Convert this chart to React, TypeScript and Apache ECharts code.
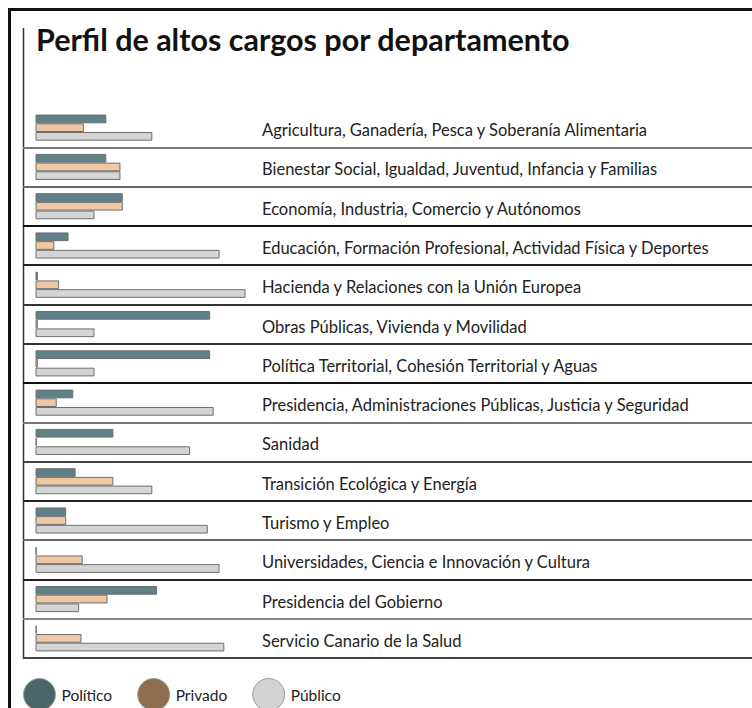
import React, { useEffect, useRef } from "react";
import * as echarts from "echarts";

const categories = [
  "Agricultura, Ganadería, Pesca y Soberanía Alimentaria",
  "Bienestar Social, Igualdad, Juventud, Infancia y Familias",
  "Economía, Industria, Comercio y Autónomos",
  "Educación, Formación Profesional, Actividad Física y Deportes",
  "Hacienda y Relaciones con la Unión Europea",
  "Obras Públicas, Vivienda y Movilidad",
  "Política Territorial, Cohesión Territorial y Aguas",
  "Presidencia, Administraciones Públicas, Justicia y Seguridad",
  "Sanidad",
  "Transición Ecológica y Energía",
  "Turismo y Empleo",
  "Universidades, Ciencia e Innovación y Cultura",
  "Presidencia del Gobierno",
  "Servicio Canario de la Salud",
];

const politico = [30, 30, 37, 14, 1, 74, 74, 16, 33, 17, 13, 0.5, 51.5, 0.5];
const privado = [20.5, 36, 37, 8, 10, 1, 1, 9, 0.5, 33, 13, 20, 30.5, 19.5];
const publico = [49.5, 36, 25, 78, 89, 25, 25, 75.5, 65.5, 49.5, 73, 78, 18.5, 80];

const seriesNames = ["Político", "Privado", "Público"];
const barColors = ["#5f8188", "#eec7a4", "#d4d4d4"];
const legendColors = ["#4a666b", "#8f6e4f", "#d3d3d3"];

const separatorColors = [
  "rgba(0,0,0,0)",
  "#777777", "#666666", "#111111", "#222222", "#333333", "#333333", "#111111",
  "#777777", "#444444", "#222222", "#666666", "#222222", "#888888", "#444444",
];

const FONT = "Lato, 'Open Sans', sans-serif";

export default function App() {
  const ref = useRef<HTMLDivElement>(null);

  useEffect(() => {
    if (!ref.current) return;
    const chart = echarts.init(ref.current, undefined, { renderer: "svg" });
    const values = [politico, privado, publico];
    chart.setOption({
      animation: false,
      backgroundColor: "#ffffff",
      title: {
        text: "Perfil de altos cargos por departamento",
        left: 31,
        top: 18,
        textStyle: { fontFamily: FONT, fontWeight: "bold", fontSize: 30.5, color: "#111111" },
      },
      legend: {
        left: 18,
        top: 673,
        itemWidth: 34,
        itemHeight: 32,
        itemGap: 25,
        icon: "circle",
        textStyle: { fontFamily: FONT, fontSize: 15.5, color: "#222222" },
        data: seriesNames.map((n, i) => ({
          name: n,
          itemStyle: { color: legendColors[i], borderColor: "#9a9a9a", borderWidth: 1 },
        })),
      },
      grid: { left: 23, right: 0, top: 108, bottom: 50, containLabel: false },
      xAxis: {
        type: "value",
        min: -5.3,
        max: 303.6,
        show: false,
        splitLine: { show: false },
      },
      yAxis: {
        type: "category",
        inverse: true,
        data: categories,
        axisLine: { show: false },
        axisTick: { show: false },
        axisLabel: {
          inside: true,
          margin: 239,
          interval: 0,
          fontFamily: FONT,
          fontSize: 16.5,
          color: "#222222",
          formatter: (v: string) => `{a|${v}}`,
          rich: {
            a: { fontFamily: FONT, fontSize: 16.5, color: "#222222", padding: [5, 0, 0, 0] },
          },
        },
        splitLine: { show: true, lineStyle: { color: separatorColors, width: 2 } },
      },
      graphic: [
        { type: "line", shape: { x1: 8, y1: 9.5, x2: 752, y2: 9.5 }, style: { stroke: "#111111", lineWidth: 3 } },
        { type: "line", shape: { x1: 9.5, y1: 8, x2: 9.5, y2: 708 }, style: { stroke: "#111111", lineWidth: 3 } },
        { type: "line", shape: { x1: 23.5, y1: 28, x2: 23.5, y2: 659 }, style: { stroke: "#333333", lineWidth: 1.5 } },
      ],
      series: seriesNames.map((n, i) => ({
        name: n,
        type: "bar",
        data: values[i],
        barWidth: 8.7,
        barGap: "0%",
        itemStyle: { color: barColors[i], borderColor: "#6f6f6f", borderWidth: 1 },
      })),
    });
    return () => chart.dispose();
  }, []);

  return (
    <div
      ref={ref}
      style={{ position: "fixed", left: 0, top: 0, width: 752, height: 708, background: "#fff" }}
    />
  );
}
